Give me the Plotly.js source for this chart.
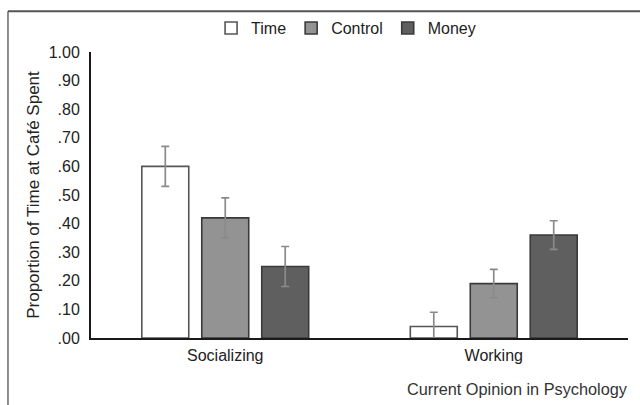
<!DOCTYPE html>
<html>
<head>
<meta charset="utf-8">
<script src="https://cdn.plot.ly/plotly-3.0.1.min.js"></script>
<style>
  html, body { margin: 0; padding: 0; background: #fff; }
  #chart { width: 640px; height: 405px; }
</style>
</head>
<body>
<div id="chart"></div>
<script>
// Data
const categories = ["Socializing", "Working"];
const seriesNames = ["Time", "Control", "Money"];
const timeValues = [0.60, 0.04];
const controlValues = [0.42, 0.19];
const moneyValues = [0.25, 0.36];
const timeErrors = [0.07, 0.05];
const controlErrors = [0.07, 0.05];
const moneyErrors = [0.07, 0.05];
const yTickVals = [0, 0.1, 0.2, 0.3, 0.4, 0.5, 0.6, 0.7, 0.8, 0.9, 1.0];
const yTickText = [".00", ".10", ".20", ".30", ".40", ".50", ".60", ".70", ".80", ".90", "1.00"];

const FONT = "Liberation Sans, Arial, Helvetica, sans-serif";
const fills = ["#ffffff", "#939393", "#5f5f5f"];
const values = [timeValues, controlValues, moneyValues];
const errors = [timeErrors, controlErrors, moneyErrors];

const traces = seriesNames.map((name, i) => ({
  type: "bar",
  name: name,
  x: categories,
  y: values[i],
  marker: { color: fills[i], line: { color: i === 0 ? "#555555" : "#3a3a3a", width: 1.6 } },
  error_y: { type: "data", array: errors[i], visible: true, color: "#8a8a8a", thickness: 1.7, width: 4 },
  hoverinfo: "skip"
}));

const layout = {
  width: 640,
  height: 405,
  margin: { l: 91, r: 12, t: 51, b: 67, pad: 0 },
  paper_bgcolor: "#ffffff",
  plot_bgcolor: "#ffffff",
  font: { family: FONT, size: 16, color: "#222222" },
  barmode: "group",
  bargap: 0.33,
  bargroupgap: 0.217,
  showlegend: true,
  legend: {
    orientation: "h",
    x: 0.475, xanchor: "center",
    y: 1.08, yanchor: "middle",
    font: { family: FONT, size: 16, color: "#222222" },
    bgcolor: "rgba(0,0,0,0)",
    itemwidth: 30,
    traceorder: "normal"
  },
  xaxis: {
    showline: true, linecolor: "#1a1a1a", linewidth: 2,
    ticks: "", showgrid: false, zeroline: false,
    tickfont: { family: FONT, size: 16, color: "#222222" },
    ticklabelstandoff: 2,
    fixedrange: true
  },
  yaxis: {
    range: [0, 1],
    tickvals: yTickVals,
    ticktext: yTickText,
    showline: true, linecolor: "#1a1a1a", linewidth: 2,
    ticks: "", showgrid: false, zeroline: false,
    tickfont: { family: FONT, size: 16, color: "#222222" },
    ticklabelstandoff: 6,
    title: { text: "Proportion of Time at Café Spent", font: { family: FONT, size: 17, color: "#222222" }, standoff: 5 },
    fixedrange: true
  },
  annotations: [{
    text: "Current Opinion in Psychology",
    xref: "paper", yref: "paper",
    x: 1.003, y: -0.178, xanchor: "right", yanchor: "middle",
    showarrow: false,
    font: { family: FONT, size: 16.3, color: "#333333" }
  }],
  shapes: [
    { type: "line", xref: "paper", yref: "paper", x0: -0.1546, x1: -0.1546, y0: 1.1429, y1: -0.24,
      line: { color: "#666666", width: 1.5 } },
    { type: "line", xref: "paper", yref: "paper", x0: -0.1546, x1: 1.03, y0: 1.1429, y1: 1.1429,
      line: { color: "#555555", width: 2 } }
  ]
};

Plotly.newPlot("chart", traces, layout, { displayModeBar: false, staticPlot: true });
</script>
</body>
</html>
